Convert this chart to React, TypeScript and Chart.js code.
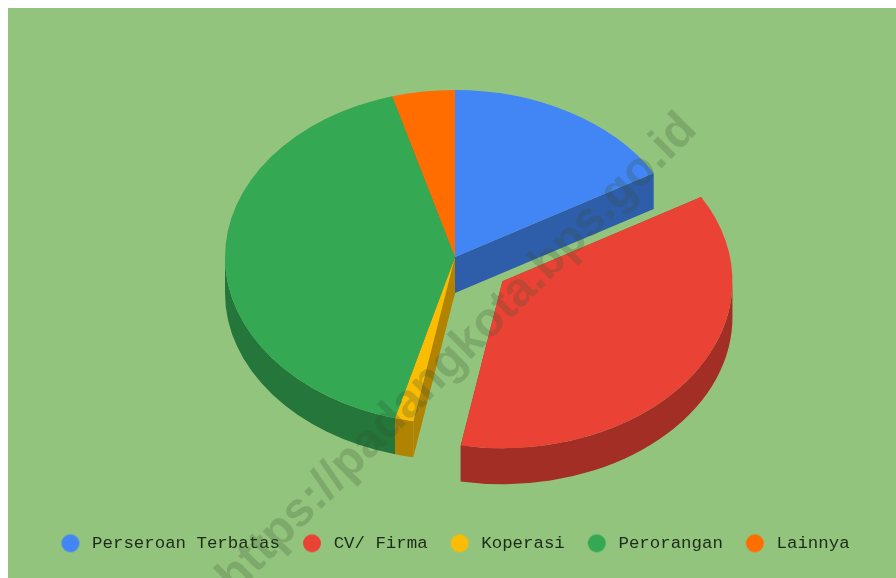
import React, { useEffect, useRef } from "react";
import { Chart, registerables } from "chart.js";

Chart.register(...registerables);

const categories = ["Perseroan Terbatas", "CV/ Firma", "Koperasi", "Perorangan", "Lainnya"];
const shares = [16.6, 36.3, 1.3, 41.4, 4.4];
const topColors = ["#4285f4", "#ea4335", "#fbbc04", "#34a853", "#ff6d01"];
const wallColors = ["#2e5daa", "#a32e25", "#b08303", "#24763a", "#b24c01"];
const explodePx = [0, 58, 0, 0, 0];
const watermark = "https://padangkota.bps.go.id";

const BG = "#93c47d";
const SQUASH = 0.726;
const DEPTH = 36;
const CENTER_X = 447;
const CENTER_Y = 249;
const RADIUS = 230;

function legendDot(color: string) {
  const c = document.createElement("canvas");
  c.width = 20;
  c.height = 20;
  const g = c.getContext("2d")!;
  g.fillStyle = color;
  g.beginPath();
  g.arc(10, 10, 9, 0, Math.PI * 2);
  g.fill();
  return c;
}

const pseudo3d = {
  id: "pseudo3d",
  beforeDatasetDraw(chart: any) {
    const ctx = chart.ctx;
    const arcs = chart.getDatasetMeta(0).data;
    const geo = arcs.map((a: any, i: number) => {
      const mid = (a.startAngle + a.endAngle) / 2;
      return {
        a,
        i,
        mid,
        s: a.startAngle,
        e: a.endAngle,
        cx: CENTER_X + explodePx[i] * Math.cos(mid),
        cy: CENTER_Y + explodePx[i] * Math.sin(mid) * SQUASH,
      };
    });
    const point = (g: any, t: number) => [
      g.cx + RADIUS * Math.cos(t),
      g.cy + RADIUS * SQUASH * Math.sin(t),
    ];
    const radialWall = (g: any, t: number) => {
      const [x, y] = point(g, t);
      ctx.beginPath();
      ctx.moveTo(g.cx, g.cy);
      ctx.lineTo(x, y);
      ctx.lineTo(x, y + DEPTH);
      ctx.lineTo(g.cx, g.cy + DEPTH);
      ctx.closePath();
      ctx.fill();
    };
    const outerWall = (g: any, from: number, to: number) => {
      const ry = RADIUS * SQUASH;
      ctx.beginPath();
      ctx.ellipse(g.cx, g.cy, RADIUS, ry, 0, from, to, false);
      ctx.ellipse(g.cx, g.cy + DEPTH, RADIUS, ry, 0, to, from, true);
      ctx.closePath();
      ctx.fill();
    };
    const order = [...geo].sort((p: any, q: any) => Math.sin(p.mid) - Math.sin(q.mid));
    ctx.save();
    for (const g of order) {
      ctx.fillStyle = wallColors[g.i];
      radialWall(g, g.s);
      radialWall(g, g.e);
      const from = Math.max(g.s, 0);
      const to = Math.min(g.e, Math.PI);
      if (to > from) outerWall(g, from, to);
    }
    ctx.restore();
    for (const g of geo) {
      ctx.save();
      ctx.translate(g.cx, g.cy);
      ctx.scale(1, SQUASH);
      ctx.translate(-g.a.x, -g.a.y);
      g.a.draw(ctx);
      ctx.restore();
    }
    return false;
  },
  afterDraw(chart: any) {
    const ctx = chart.ctx;
    ctx.save();
    ctx.translate(227, 587);
    ctx.rotate(-Math.PI / 4);
    ctx.font = "bold 48px 'Liberation Sans'";
    ctx.fillStyle = "rgba(55,85,50,0.24)";
    ctx.textBaseline = "alphabetic";
    ctx.fillText(watermark, 0, 0);
    ctx.restore();
  },
};

export default function App() {
  const ref = useRef<HTMLCanvasElement>(null);
  useEffect(() => {
    const chart = new Chart(ref.current!, {
      type: "pie",
      data: {
        labels: categories,
        datasets: [{ data: shares, backgroundColor: topColors, borderWidth: 0, radius: RADIUS } as any],
      },
      plugins: [pseudo3d],
      options: {
        responsive: false,
        animation: false,
        layout: { padding: { left: 3, right: 0, top: 0, bottom: 16 } },
        plugins: {
          tooltip: { enabled: false },
          legend: {
            position: "bottom",
            labels: {
              usePointStyle: true,
              pointStyleWidth: 26,
              padding: 19,
              color: "#1c2a18",
              font: { family: "'Liberation Mono'", size: 17.4 },
              generateLabels(c: any) {
                const items = (Chart as any).overrides.pie.plugins.legend.labels.generateLabels(c);
                return items.map((it: any, i: number) => ({ ...it, pointStyle: legendDot(topColors[i]) }));
              },
            },
          },
        },
      } as any,
    });
    return () => chart.destroy();
  }, []);
  return (
    <canvas
      ref={ref}
      width={888}
      height={570}
      style={{ position: "absolute", left: 8, top: 8, width: 888, height: 570, background: BG }}
    />
  );
}
